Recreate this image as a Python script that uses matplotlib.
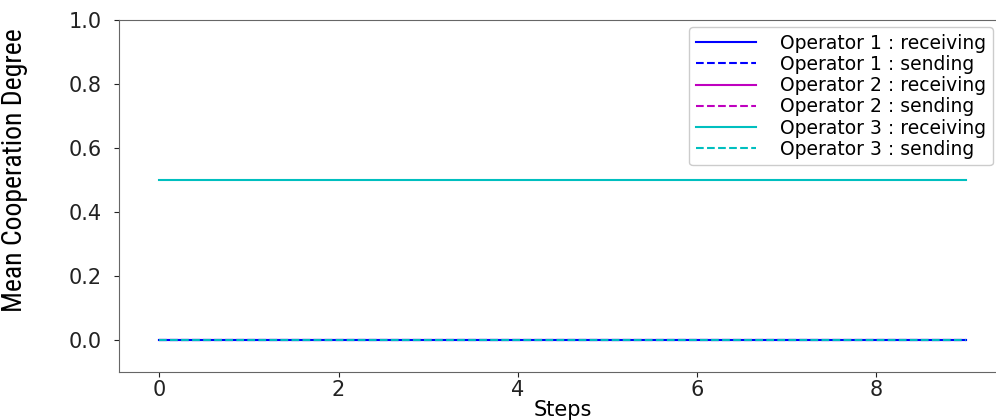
import matplotlib
matplotlib.use("Agg")
import matplotlib.pyplot as plt
from matplotlib import font_manager

steps = list(range(10))
op1_receiving = [0.0] * 10
op1_sending = [0.0] * 10
op2_receiving = [0.0] * 10
op2_sending = [0.0] * 10
op3_receiving = [0.5] * 10
op3_sending = [0.0] * 10

names = set(f.name for f in font_manager.fontManager.ttflist)
narrow = "DejaVu Sans"
for cand in ["Liberation Sans Narrow", "Roboto Condensed", "Open Sans Condensed", "Liberation Sans"]:
    if cand in names:
        narrow = cand
        break

fig = plt.figure(figsize=(9.96, 4.2), dpi=100)
ax = fig.add_axes([0.1195, 0.1143, 0.8906, 0.838])

lw = 1.5
h2r, = ax.plot(steps, op2_receiving, color="m", lw=lw, label="Operator 2 : receiving")
h2s, = ax.plot(steps, op2_sending, color="m", ls="--", lw=lw, label="Operator 2 : sending")
h1r, = ax.plot(steps, op1_receiving, color="b", lw=lw, label="Operator 1 : receiving")
h1s, = ax.plot(steps, op1_sending, color="b", ls="--", lw=lw, label="Operator 1 : sending")
h3r, = ax.plot(steps, op3_receiving, color="c", lw=lw, label="Operator 3 : receiving")
h3s, = ax.plot(steps, op3_sending, color="c", ls="--", lw=lw, label="Operator 3 : sending")

ax.set_xlim(-0.45, 9.45)
ax.set_ylim(-0.1, 1.0)
ax.set_xticks([0, 2, 4, 6, 8])
ax.set_yticks([0.0, 0.2, 0.4, 0.6, 0.8, 1.0])
ax.tick_params(labelsize=15, colors="#222222")
ax.tick_params(axis="y", pad=9)
ax.tick_params(axis="x", pad=2)
for s in ax.spines.values():
    s.set_color("#666666")
ax.spines["right"].set_visible(False)

ax.set_xlabel("Steps", fontsize=15, labelpad=0)
ax.set_ylabel("Mean Cooperation Degree", fontsize=20, family=narrow)
ax.yaxis.set_label_coords(-0.103, 0.574)

leg = ax.legend(handles=[h1r, h1s, h2r, h2s, h3r, h3s],
                loc="upper right", bbox_to_anchor=(0.997, 1 - 27 / 420),
                bbox_transform=fig.transFigure, borderaxespad=0,
                fontsize=13.5, handlelength=3.2, labelspacing=0.12,
                handletextpad=1.3, borderpad=0.35, framealpha=1)

fig.savefig("out.png", dpi=100)
